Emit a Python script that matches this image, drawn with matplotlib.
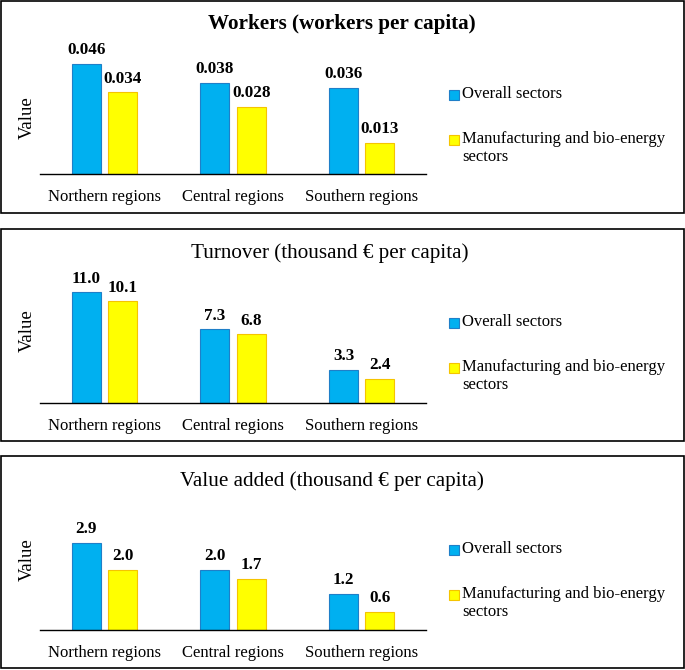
import matplotlib
matplotlib.use("Agg")
import matplotlib.pyplot as plt
from matplotlib.patches import Rectangle
import numpy as np

plt.rcParams['font.family'] = ['Liberation Serif', 'DejaVu Serif']

categories = ["Northern regions", "Central regions", "Southern regions"]
series_names = ["Overall sectors", "Manufacturing and bio-energy\nsectors"]

titles = ["Workers (workers per capita)",
          "Turnover (thousand € per capita)",
          "Value added (thousand € per capita)"]
title_bold = [True, False, False]

workers_overall = [0.046, 0.038, 0.036]
workers_manuf = [0.034, 0.028, 0.013]
workers_labels_overall = ["0.046", "0.038", "0.036"]
workers_labels_manuf = ["0.034", "0.028", "0.013"]

turnover_overall = [11.0, 7.3, 3.3]
turnover_manuf = [10.1, 6.8, 2.4]
turnover_labels_overall = ["11.0", "7.3", "3.3"]
turnover_labels_manuf = ["10.1", "6.8", "2.4"]

va_overall = [2.9, 2.0, 1.2]
va_manuf = [2.0, 1.7, 0.6]
va_labels_overall = ["2.9", "2.0", "1.2"]
va_labels_manuf = ["2.0", "1.7", "0.6"]

panels = [
    (workers_overall, workers_manuf, workers_labels_overall, workers_labels_manuf, 0.0558),
    (turnover_overall, turnover_manuf, turnover_labels_overall, turnover_labels_manuf, 13.2),
    (va_overall, va_manuf, va_labels_overall, va_labels_manuf, 4.43),
]

blue_face, blue_edge = "#00B0F0", "#1F7FC8"
yel_face, yel_edge = "#FFFF00", "#F5C400"

W, H = 685, 670
fig = plt.figure(figsize=(W / 100, H / 100), dpi=100)

def fx(px):
    return px / W

def fy(py):
    return 1 - py / H

# panel geometry in pixels: (box_top, box_bottom, title_y, axes_top, baseline, title_x, ylabel_y)
geo = [(1, 213, 24, 40, 174, 342, 118),
       (229, 441, 253, 270, 403, 330, 331),
       (456, 668, 481, 497, 630, 332, 560)]

x = np.arange(len(categories))
bw = 0.227
off = 0.141

for i, (ov, mf, lo, lm, ymax) in enumerate(panels):
    btop, bbot, ty, atop, base, tx, vy = geo[i]
    # border box
    fig.patches.append(Rectangle((fx(1), fy(bbot)), fx(683), (bbot - btop) / H,
                                 transform=fig.transFigure, fill=False,
                                 edgecolor="black", linewidth=1.2))
    ax = fig.add_axes([fx(40), fy(base), fx(386), (base - atop) / H])
    b1 = ax.bar(x - off, ov, bw, color=blue_face, edgecolor=blue_edge, linewidth=0.8)
    b2 = ax.bar(x + off, mf, bw, color=yel_face, edgecolor=yel_edge, linewidth=0.8)
    ax.bar_label(b1, labels=lo, padding=4, fontsize=12.3, fontweight="bold")
    ax.bar_label(b2, labels=lm, padding=4, fontsize=12.3, fontweight="bold")
    ax.set_xlim(-0.5, 2.5)
    ax.set_ylim(0, ymax)
    for s in ["top", "right", "left"]:
        ax.spines[s].set_visible(False)
    ax.spines["bottom"].set_linewidth(1.0)
    ax.set_yticks([])
    ax.set_xticks(x)
    ax.set_xticklabels(categories, fontsize=12)
    ax.tick_params(axis="x", length=0, pad=10.5)
    ax.patch.set_alpha(0)

    fig.text(fx(tx), fy(ty), titles[i], ha="center", va="center", fontsize=15.2,
             fontweight="bold" if title_bold[i] else "normal")
    fig.text(fx(27), fy(vy), "Value", rotation=90, ha="center",
             va="center", fontsize=13.5)

    # legend
    ly1 = btop + 94
    ly2 = btop + 139
    for (ly, fc, ec, lab) in [(ly1, blue_face, blue_edge, series_names[0]),
                              (ly2, yel_face, yel_edge, series_names[1])]:
        fig.patches.append(Rectangle((fx(449), fy(ly + 5)), fx(10), 10 / H,
                                     transform=fig.transFigure, facecolor=fc,
                                     edgecolor=ec, linewidth=0.8))
        fig.text(fx(462), fy(ly - 9), lab, ha="left", va="top", fontsize=12,
                 linespacing=1.15)

fig.savefig("out.png", dpi=100)
